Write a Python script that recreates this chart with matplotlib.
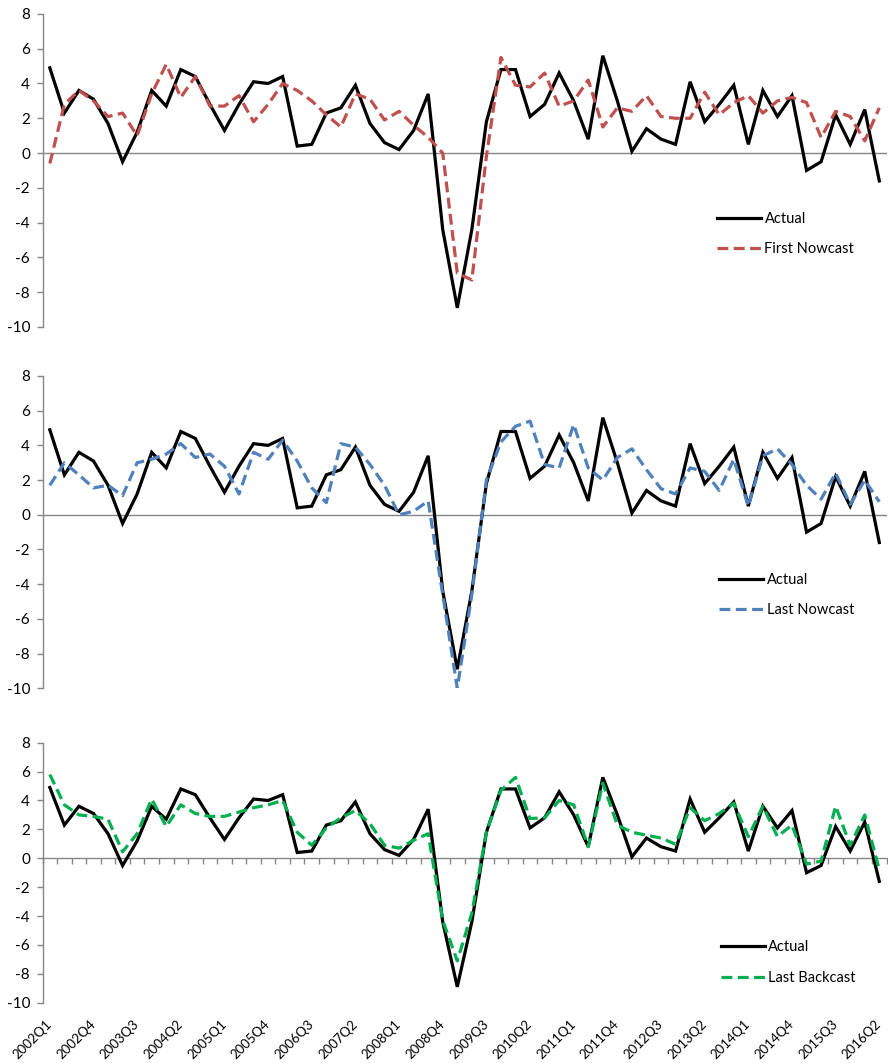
import matplotlib
matplotlib.use("Agg")
import matplotlib.pyplot as plt
import numpy as np

# Quarterly GDP growth, 2002Q1 - 2016Q2 (annualised %)
quarters = [f"{y}Q{q}" for y in range(2002, 2017) for q in range(1, 5)][:58]

actual = [4.9, 2.3, 3.6, 3.1, 1.7, -0.5, 1.2, 3.6, 2.7, 4.8,
          4.4, 2.8, 1.3, 2.8, 4.1, 4.0, 4.4, 0.4, 0.5, 2.3,
          2.6, 3.9, 1.7, 0.6, 0.2, 1.3, 3.4, -4.4, -8.9, -4.4,
          1.8, 4.8, 4.8, 2.1, 2.8, 4.6, 3.0, 0.8, 5.6, 3.0,
          0.1, 1.4, 0.8, 0.5, 4.1, 1.8, 2.8, 3.9, 0.5, 3.6,
          2.1, 3.3, -1.0, -0.5, 2.2, 0.5, 2.5, -1.6]

first_nowcast = [-0.6, 2.8, 3.6, 3.0, 2.1, 2.3, 1.0, 3.4, 5.1, 3.2,
                 4.4, 2.7, 2.7, 3.3, 1.8, 2.8, 4.0, 3.6, 3.0, 2.2,
                 1.5, 3.4, 3.1, 1.9, 2.4, 1.6, 0.9, 0.0, -6.9, -7.3,
                 -0.2, 5.5, 3.9, 3.8, 4.6, 2.7, 3.0, 4.2, 1.5, 2.6,
                 2.4, 3.3, 2.1, 2.0, 2.0, 3.5, 2.2, 2.9, 3.3, 2.3,
                 3.0, 3.2, 2.9, 0.9, 2.4, 2.1, 0.7, 2.6]

last_nowcast = [1.7, 3.0, 2.3, 1.55, 1.7, 1.1, 3.0, 3.2, 3.5, 4.1,
                3.3, 3.5, 2.8, 1.2, 3.6, 3.2, 4.3, 3.1, 1.55, 0.7,
                4.1, 3.9, 2.9, 1.7, 0.0, 0.2, 0.8, -4.6, -10.0, -4.6,
                2.0, 4.2, 5.1, 5.4, 2.9, 2.7, 5.2, 2.7, 2.0, 3.3,
                3.8, 2.6, 1.5, 1.2, 2.7, 2.5, 1.4, 3.2, 0.5, 3.4,
                3.8, 2.9, 1.7, 0.9, 2.4, 0.6, 2.0, 0.75]

last_backcast = [5.8, 3.7, 3.0, 2.9, 2.7, 0.45, 1.7, 4.1, 2.2, 3.7,
                 3.1, 2.9, 2.9, 3.2, 3.5, 3.7, 4.0, 1.8, 0.9, 2.1,
                 2.8, 3.3, 2.4, 0.9, 0.7, 1.25, 1.7, -4.3, -7.1, -3.8,
                 1.8, 4.7, 5.6, 2.75, 2.8, 4.0, 3.7, 0.8, 5.2, 2.3,
                 1.8, 1.6, 1.4, 0.97, 3.5, 2.6, 3.1, 3.8, 1.5, 3.6,
                 1.5, 2.3, -0.4, -0.2, 3.6, 0.9, 3.0, -0.8]

y_ticks = [-10, -8, -6, -4, -2, 0, 2, 4, 6, 8]
label_step = 3

plt.rcParams['font.family'] = ['Lato', 'DejaVu Sans']

GRAY = '#868686'
panels = [
    # (forecast series, legend label, colour, axes rect, legend anchor)
    (first_nowcast, 'First Nowcast', '#C0504D', [0.0479, 0.6924, 0.9505, 0.2945], (0.7992, 0.297)),
    (last_nowcast, 'Last Nowcast', '#4F81BD', [0.0479, 0.3525, 0.9505, 0.2938], (0.8016, 0.2986)),
    (last_backcast, 'Last Backcast', '#00B050', [0.0479, 0.0567, 0.9505, 0.2446], (0.8036, 0.155)),
]

fig = plt.figure(figsize=(8.88, 10.63), dpi=100)
x = np.arange(len(quarters))

for k, (fc, fc_label, color, rect, leg_anchor) in enumerate(panels):
    ax = fig.add_axes(rect)
    ax.plot(x, actual, color='black', lw=2.3, label='Actual', zorder=3,
            solid_joinstyle='miter')
    ax.plot(x, fc, color=color, lw=2.3, dashes=(3.4, 1.7), label=fc_label,
            zorder=4)
    ax.set_xlim(-0.5, len(quarters) - 0.5)
    ax.set_ylim(y_ticks[0], y_ticks[-1])
    ax.set_yticks(y_ticks)
    ax.set_yticklabels([str(v) for v in y_ticks])
    ax.tick_params(axis='y', direction='out', length=4, width=1, color=GRAY,
                   labelsize=11, pad=5, labelcolor='black')
    for s in ('top', 'right', 'bottom'):
        ax.spines[s].set_visible(False)
    ax.spines['left'].set_color(GRAY)
    ax.spines['left'].set_linewidth(1)

    last = k == len(panels) - 1
    if last:
        # category labels along the bottom edge
        ax.set_xticks(x[::label_step])
        ax.set_xticklabels(quarters[::label_step], rotation=45, ha='right',
                           va='center', rotation_mode='anchor', fontsize=9.5)
        ax.tick_params(axis='x', length=0, pad=14)
        # zero axis with tick marks between categories
        zero_pos = (0 - y_ticks[0]) / (y_ticks[-1] - y_ticks[0])
        sec = ax.secondary_xaxis(zero_pos)
        sec.set_xticks(np.arange(-0.5, len(quarters), 1.0))
        sec.tick_params(axis='x', direction='in', length=4, width=1, color=GRAY,
                        labeltop=False, labelbottom=False)
        for s in sec.spines.values():
            s.set_color(GRAY)
            s.set_linewidth(1)
    else:
        ax.set_xticks([])
        ax.axhline(0, color=GRAY, lw=1, zorder=1)

    ax.legend(loc='center left', bbox_to_anchor=leg_anchor, frameon=False,
              fontsize=10.5, handlelength=3.0, handletextpad=0.25,
              labelspacing=1.15, borderpad=0, borderaxespad=0)

fig.savefig('out.png', dpi=100)
